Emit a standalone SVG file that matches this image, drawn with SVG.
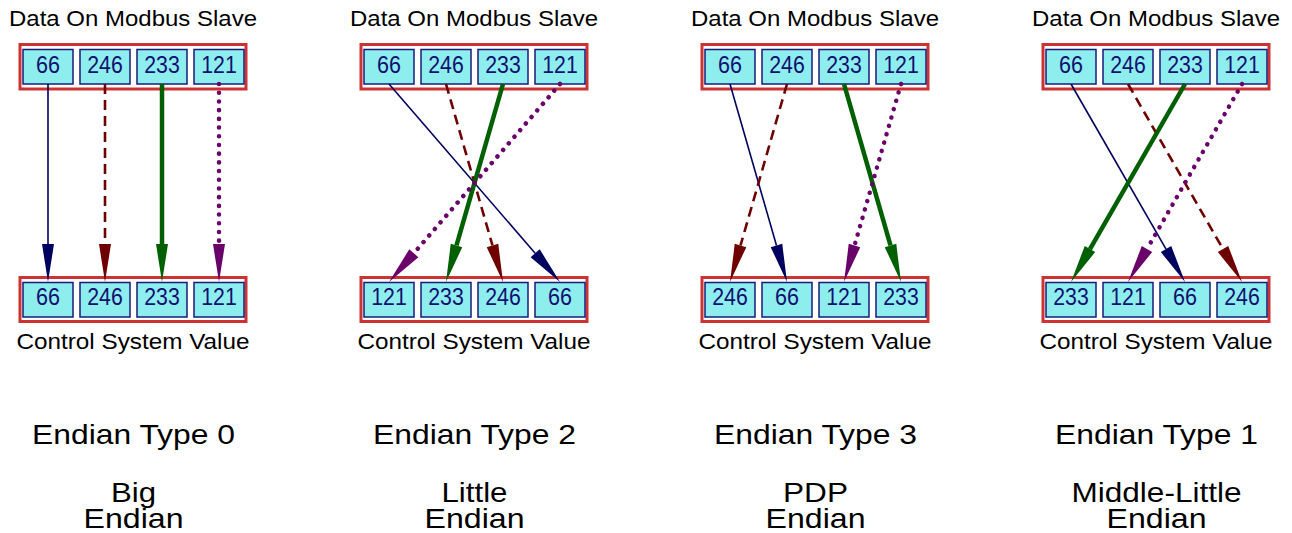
<svg xmlns="http://www.w3.org/2000/svg" width="1292" height="533" viewBox="0 0 1292 533">
<style>
text{font-family:"Liberation Sans",Arial,sans-serif;text-anchor:middle;fill:#000}
.lbl{font-size:22px}
.big{font-size:28px}
.rec{fill:#fff;stroke:#cc3333;stroke-width:3}
.cell{fill:#8eeeee;stroke:#1a1a7a;stroke-width:1.5}
.num{font-size:23px;fill:#101070}
.c-blue{fill:none;stroke:#00005f;stroke-width:1.6}
.c-red{fill:none;stroke:#6e0000;stroke-width:2.6;stroke-dasharray:10 6}
.c-green{fill:none;stroke:#006000;stroke-width:4.5}
.c-purple{fill:none;stroke:#6a006a;stroke-width:4.5;stroke-dasharray:0.1 8.6;stroke-linecap:round}
</style>
<defs>
<marker id="ah-blue" markerUnits="userSpaceOnUse" markerWidth="40" markerHeight="14" refX="0" refY="6" orient="auto" overflow="visible"><path d="M0,0 L38,6 L0,12 Z" fill="#00005f"/></marker>
<marker id="ah-red" markerUnits="userSpaceOnUse" markerWidth="40" markerHeight="14" refX="0" refY="6" orient="auto" overflow="visible"><path d="M0,0 L38,6 L0,12 Z" fill="#6e0000"/></marker>
<marker id="ah-green" markerUnits="userSpaceOnUse" markerWidth="40" markerHeight="14" refX="0" refY="6" orient="auto" overflow="visible"><path d="M0,0 L38,6 L0,12 Z" fill="#006000"/></marker>
<marker id="ah-purple" markerUnits="userSpaceOnUse" markerWidth="40" markerHeight="14" refX="0" refY="6" orient="auto" overflow="visible"><path d="M0,0 L38,6 L0,12 Z" fill="#6a006a"/></marker>
</defs>

<!-- Panel 0 -->
<g id="panel0-labels">
<text class="lbl" x="133" y="26" textLength="248" lengthAdjust="spacingAndGlyphs">Data On Modbus Slave</text>
<text class="lbl" x="133" y="348.5" textLength="233" lengthAdjust="spacingAndGlyphs">Control System Value</text>
<text class="big" x="133.5" y="444.3" textLength="203" lengthAdjust="spacingAndGlyphs">Endian Type 0</text>
<text class="big" x="133.5" y="501.5" textLength="45" lengthAdjust="spacingAndGlyphs">Big</text>
<text class="big" x="133.5" y="528.3" textLength="100" lengthAdjust="spacingAndGlyphs">Endian</text>
</g>
<g id="panel0-slave">
<rect class="rec" x="20" y="44.5" width="226" height="44.5"/>
<rect class="cell" x="23" y="49.5" width="50" height="34.5"/><text class="num" x="48" y="73.3" textLength="24" lengthAdjust="spacingAndGlyphs">66</text>
<rect class="cell" x="80" y="49.5" width="50" height="34.5"/><text class="num" x="105" y="73.3" textLength="35.5" lengthAdjust="spacingAndGlyphs">246</text>
<rect class="cell" x="137" y="49.5" width="50" height="34.5"/><text class="num" x="162" y="73.3" textLength="35.5" lengthAdjust="spacingAndGlyphs">233</text>
<rect class="cell" x="194" y="49.5" width="50" height="34.5"/><text class="num" x="219" y="73.3" textLength="35.5" lengthAdjust="spacingAndGlyphs">121</text>
</g>
<g id="panel0-control">
<rect class="rec" x="20" y="277.5" width="226" height="44"/>
<rect class="cell" x="23" y="282.5" width="50" height="34.5"/><text class="num" x="48" y="305.3" textLength="24" lengthAdjust="spacingAndGlyphs">66</text>
<rect class="cell" x="80" y="282.5" width="50" height="34.5"/><text class="num" x="105" y="305.3" textLength="35.5" lengthAdjust="spacingAndGlyphs">246</text>
<rect class="cell" x="137" y="282.5" width="50" height="34.5"/><text class="num" x="162" y="305.3" textLength="35.5" lengthAdjust="spacingAndGlyphs">233</text>
<rect class="cell" x="194" y="282.5" width="50" height="34.5"/><text class="num" x="219" y="305.3" textLength="35.5" lengthAdjust="spacingAndGlyphs">121</text>
</g>

<!-- Panel 1 (Type 2) -->
<g id="panel1-labels">
<text class="lbl" x="474" y="26" textLength="248" lengthAdjust="spacingAndGlyphs">Data On Modbus Slave</text>
<text class="lbl" x="474" y="348.5" textLength="233" lengthAdjust="spacingAndGlyphs">Control System Value</text>
<text class="big" x="474.5" y="444.3" textLength="203" lengthAdjust="spacingAndGlyphs">Endian Type 2</text>
<text class="big" x="474.5" y="501.5" textLength="66" lengthAdjust="spacingAndGlyphs">Little</text>
<text class="big" x="474.5" y="528.3" textLength="100" lengthAdjust="spacingAndGlyphs">Endian</text>
</g>
<g id="panel1-slave">
<rect class="rec" x="361" y="44.5" width="226" height="44.5"/>
<rect class="cell" x="364" y="49.5" width="50" height="34.5"/><text class="num" x="389" y="73.3" textLength="24" lengthAdjust="spacingAndGlyphs">66</text>
<rect class="cell" x="421" y="49.5" width="50" height="34.5"/><text class="num" x="446" y="73.3" textLength="35.5" lengthAdjust="spacingAndGlyphs">246</text>
<rect class="cell" x="478" y="49.5" width="50" height="34.5"/><text class="num" x="503" y="73.3" textLength="35.5" lengthAdjust="spacingAndGlyphs">233</text>
<rect class="cell" x="535" y="49.5" width="50" height="34.5"/><text class="num" x="560" y="73.3" textLength="35.5" lengthAdjust="spacingAndGlyphs">121</text>
</g>
<g id="panel1-control">
<rect class="rec" x="361" y="277.5" width="226" height="44"/>
<rect class="cell" x="364" y="282.5" width="50" height="34.5"/><text class="num" x="389" y="305.3" textLength="35.5" lengthAdjust="spacingAndGlyphs">121</text>
<rect class="cell" x="421" y="282.5" width="50" height="34.5"/><text class="num" x="446" y="305.3" textLength="35.5" lengthAdjust="spacingAndGlyphs">233</text>
<rect class="cell" x="478" y="282.5" width="50" height="34.5"/><text class="num" x="503" y="305.3" textLength="35.5" lengthAdjust="spacingAndGlyphs">246</text>
<rect class="cell" x="535" y="282.5" width="50" height="34.5"/><text class="num" x="560" y="305.3" textLength="24" lengthAdjust="spacingAndGlyphs">66</text>
</g>

<!-- Panel 2 (Type 3) -->
<g id="panel2-labels">
<text class="lbl" x="815" y="26" textLength="248" lengthAdjust="spacingAndGlyphs">Data On Modbus Slave</text>
<text class="lbl" x="815" y="348.5" textLength="233" lengthAdjust="spacingAndGlyphs">Control System Value</text>
<text class="big" x="815.5" y="444.3" textLength="203" lengthAdjust="spacingAndGlyphs">Endian Type 3</text>
<text class="big" x="815.5" y="501.5" textLength="65" lengthAdjust="spacingAndGlyphs">PDP</text>
<text class="big" x="815.5" y="528.3" textLength="100" lengthAdjust="spacingAndGlyphs">Endian</text>
</g>
<g id="panel2-slave">
<rect class="rec" x="702" y="44.5" width="226" height="44.5"/>
<rect class="cell" x="705" y="49.5" width="50" height="34.5"/><text class="num" x="730" y="73.3" textLength="24" lengthAdjust="spacingAndGlyphs">66</text>
<rect class="cell" x="762" y="49.5" width="50" height="34.5"/><text class="num" x="787" y="73.3" textLength="35.5" lengthAdjust="spacingAndGlyphs">246</text>
<rect class="cell" x="819" y="49.5" width="50" height="34.5"/><text class="num" x="844" y="73.3" textLength="35.5" lengthAdjust="spacingAndGlyphs">233</text>
<rect class="cell" x="876" y="49.5" width="50" height="34.5"/><text class="num" x="901" y="73.3" textLength="35.5" lengthAdjust="spacingAndGlyphs">121</text>
</g>
<g id="panel2-control">
<rect class="rec" x="702" y="277.5" width="226" height="44"/>
<rect class="cell" x="705" y="282.5" width="50" height="34.5"/><text class="num" x="730" y="305.3" textLength="35.5" lengthAdjust="spacingAndGlyphs">246</text>
<rect class="cell" x="762" y="282.5" width="50" height="34.5"/><text class="num" x="787" y="305.3" textLength="24" lengthAdjust="spacingAndGlyphs">66</text>
<rect class="cell" x="819" y="282.5" width="50" height="34.5"/><text class="num" x="844" y="305.3" textLength="35.5" lengthAdjust="spacingAndGlyphs">121</text>
<rect class="cell" x="876" y="282.5" width="50" height="34.5"/><text class="num" x="901" y="305.3" textLength="35.5" lengthAdjust="spacingAndGlyphs">233</text>
</g>

<!-- Panel 3 (Type 1) -->
<g id="panel3-labels">
<text class="lbl" x="1156" y="26" textLength="248" lengthAdjust="spacingAndGlyphs">Data On Modbus Slave</text>
<text class="lbl" x="1156" y="348.5" textLength="233" lengthAdjust="spacingAndGlyphs">Control System Value</text>
<text class="big" x="1156.5" y="444.3" textLength="203" lengthAdjust="spacingAndGlyphs">Endian Type 1</text>
<text class="big" x="1156.5" y="501.5" textLength="170" lengthAdjust="spacingAndGlyphs">Middle-Little</text>
<text class="big" x="1156.5" y="528.3" textLength="100" lengthAdjust="spacingAndGlyphs">Endian</text>
</g>
<g id="panel3-slave">
<rect class="rec" x="1043" y="44.5" width="226" height="44.5"/>
<rect class="cell" x="1046" y="49.5" width="50" height="34.5"/><text class="num" x="1071" y="73.3" textLength="24" lengthAdjust="spacingAndGlyphs">66</text>
<rect class="cell" x="1103" y="49.5" width="50" height="34.5"/><text class="num" x="1128" y="73.3" textLength="35.5" lengthAdjust="spacingAndGlyphs">246</text>
<rect class="cell" x="1160" y="49.5" width="50" height="34.5"/><text class="num" x="1185" y="73.3" textLength="35.5" lengthAdjust="spacingAndGlyphs">233</text>
<rect class="cell" x="1217" y="49.5" width="50" height="34.5"/><text class="num" x="1242" y="73.3" textLength="35.5" lengthAdjust="spacingAndGlyphs">121</text>
</g>
<g id="panel3-control">
<rect class="rec" x="1043" y="277.5" width="226" height="44"/>
<rect class="cell" x="1046" y="282.5" width="50" height="34.5"/><text class="num" x="1071" y="305.3" textLength="35.5" lengthAdjust="spacingAndGlyphs">233</text>
<rect class="cell" x="1103" y="282.5" width="50" height="34.5"/><text class="num" x="1128" y="305.3" textLength="35.5" lengthAdjust="spacingAndGlyphs">121</text>
<rect class="cell" x="1160" y="282.5" width="50" height="34.5"/><text class="num" x="1185" y="305.3" textLength="24" lengthAdjust="spacingAndGlyphs">66</text>
<rect class="cell" x="1217" y="282.5" width="50" height="34.5"/><text class="num" x="1242" y="305.3" textLength="35.5" lengthAdjust="spacingAndGlyphs">246</text>
</g>

<g id="connectors">
<path class="c-blue" d="M48,84 L48,244" marker-end="url(#ah-blue)"/>
<path class="c-red" d="M105,84 L105,244" marker-end="url(#ah-red)"/>
<path class="c-green" d="M162,84 L162,244" marker-end="url(#ah-green)"/>
<path class="c-purple" d="M219,84 L219,244" marker-end="url(#ah-purple)"/>

<path class="c-blue" d="M389,84 L535.16,253.24" marker-end="url(#ah-blue)"/>
<path class="c-red" d="M446,84 L492.49,245.48" marker-end="url(#ah-red)"/>
<path class="c-green" d="M503,84 L456.51,245.48" marker-end="url(#ah-green)"/>
<path class="c-purple" d="M560,84 L413.84,253.24" marker-end="url(#ah-purple)"/>

<path class="c-blue" d="M730,84 L776.49,245.48" marker-end="url(#ah-blue)"/>
<path class="c-red" d="M787,84 L740.51,245.48" marker-end="url(#ah-red)"/>
<path class="c-green" d="M844,84 L890.49,245.48" marker-end="url(#ah-green)"/>
<path class="c-purple" d="M901,84 L854.51,245.48" marker-end="url(#ah-purple)"/>

<path class="c-blue" d="M1071,84 L1166.04,249.07" marker-end="url(#ah-blue)"/>
<path class="c-red" d="M1128,84 L1223.04,249.07" marker-end="url(#ah-red)"/>
<path class="c-green" d="M1185,84 L1089.96,249.07" marker-end="url(#ah-green)"/>
<path class="c-purple" d="M1242,84 L1146.96,249.07" marker-end="url(#ah-purple)"/>
</g>
</svg>
